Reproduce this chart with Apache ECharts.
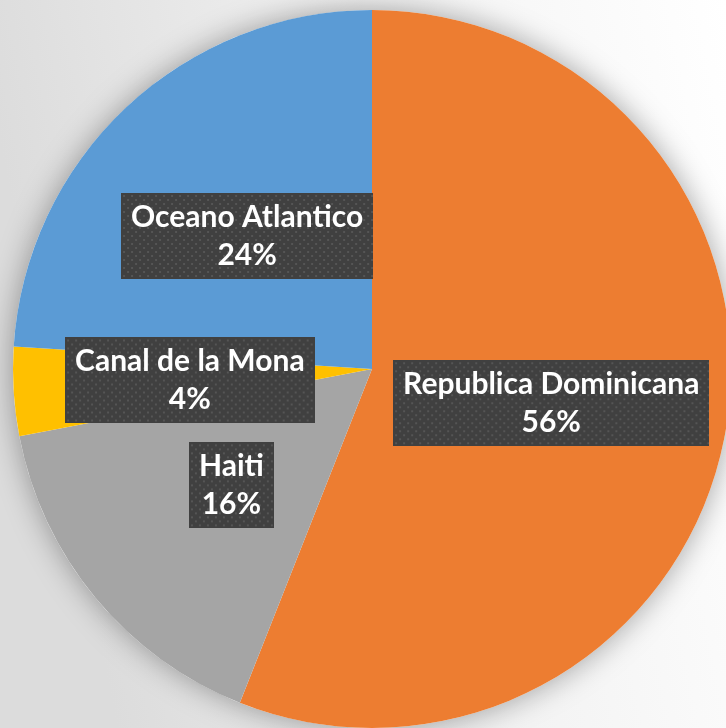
<!DOCTYPE html>
<html><head><meta charset="utf-8">
<script src="https://cdn.jsdelivr.net/npm/echarts@6/dist/echarts.min.js"></script>
<style>html,body{margin:0;padding:0;background:#fff;}#c{width:726px;height:728px;}</style>
</head><body><div id="c"></div>
<script>
const categories = ['Republica Dominicana', 'Haiti', 'Canal de la Mona', 'Oceano Atlantico'];
const values = [56, 16, 4, 24];
const colors = ['#ED7D31', '#A5A5A5', '#FFC000', '#5B9BD5'];

const FONT_SIZE = 30, LINE_H = 38, PAD = [5, 10];
const FONT_FAMILY = 'Lato';
const fontStr = 'bold ' + FONT_SIZE + 'px ' + FONT_FAMILY;

function makeBg(lines) {
  const m = document.createElement('canvas').getContext('2d');
  m.font = fontStr;
  const w = Math.max.apply(null, lines.map(l => m.measureText(l).width));
  const W = Math.round(w + PAD[1] * 2), H = LINE_H * lines.length + PAD[0] * 2;
  const c = document.createElement('canvas');
  c.width = W; c.height = H;
  const g = c.getContext('2d');
  g.fillStyle = '#404040';
  g.fillRect(0, 0, W, H);
  g.fillStyle = '#555555';
  for (let y = 2, r = 0; y < H; y += 4, r++) {
    for (let x = (r % 2 ? 6 : 2); x < W; x += 8) g.fillRect(x, y, 2, 2);
  }
  return c;
}

const total = values.reduce((a, b) => a + b, 0);
const data = categories.map((n, i) => {
  const pct = Math.round(values[i] / total * 100) + '%';
  return {
    name: n, value: values[i],
    itemStyle: { color: colors[i] },
    label: { backgroundColor: { image: makeBg([n, pct]) } }
  };
});

const chart = echarts.init(document.getElementById('c'), null, { renderer: 'canvas' });
chart.setOption({
  backgroundColor: {
    type: 'linear', x: 0, y: 0.2, x2: 1, y2: 0,
    colorStops: [{ offset: 0, color: '#dcdcdc' }, { offset: 0.55, color: '#f3f3f3' }, { offset: 1, color: '#ffffff' }]
  },
  animation: false,
  series: [
    {
      type: 'pie', silent: true, center: [372, 369], radius: 359,
      label: { show: false }, labelLine: { show: false },
      itemStyle: { color: '#ffffff', shadowBlur: 30, shadowColor: 'rgba(0,0,0,0.35)' },
      data: [{ value: 1, name: 'shadow' }]
    },
    {
      type: 'pie', center: [372, 369], radius: 359, startAngle: 90, clockwise: true,
      percentPrecision: 0,
      emphasis: { disabled: true },
      itemStyle: { borderWidth: 0 },
      label: {
        show: true, position: 'inside',
        formatter: '{b}\n{d}%',
        color: '#ffffff', fontFamily: FONT_FAMILY, fontWeight: 'bold',
        fontSize: FONT_SIZE, lineHeight: LINE_H, padding: PAD,
        shadowBlur: 4, shadowOffsetX: 2, shadowOffsetY: 3, shadowColor: 'rgba(0,0,0,0.45)'
      },
      labelLine: { show: false },
      data: data
    }
  ]
});
</script></body></html>
